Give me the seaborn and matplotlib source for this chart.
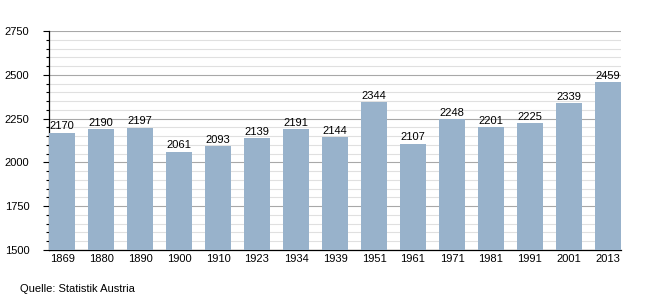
import matplotlib
matplotlib.use("Agg")
import matplotlib.pyplot as plt
import seaborn as sns
import pandas as pd
from matplotlib.ticker import MultipleLocator

years = ["1869", "1880", "1890", "1900", "1910", "1923", "1934", "1939",
         "1951", "1961", "1971", "1981", "1991", "2001", "2013"]
population = [2170, 2190, 2197, 2061, 2093, 2139, 2191, 2144,
              2344, 2107, 2248, 2201, 2225, 2339, 2459]
source = "Quelle: Statistik Austria"

df = pd.DataFrame({"Jahr": years, "Einwohner": population})

sns.set_style("white")
plt.rcParams["font.family"] = ["Liberation Sans", "DejaVu Sans"]
plt.rcParams["text.color"] = "black"
plt.rcParams["xtick.color"] = "black"
plt.rcParams["ytick.color"] = "black"

fig = plt.figure(figsize=(6.5, 3.0), dpi=100)
ax = fig.add_axes([49 / 650, 50 / 300, 572 / 650, 219 / 300])

sns.barplot(data=df, x="Jahr", y="Einwohner", order=years, color="#98b2cb",
            saturation=1, width=0.67, ax=ax, zorder=3, linewidth=0, edgecolor="none")

ax.set_ylim(1500, 2750)
ax.set_xlim(-0.335, len(years) - 1 + 0.335)
ax.yaxis.set_major_locator(MultipleLocator(250))
ax.yaxis.set_minor_locator(MultipleLocator(50))
ax.grid(which="minor", axis="y", color="#e0e0e0", linewidth=0.8, zorder=0)
ax.grid(which="major", axis="y", color="#a8a8a8", linewidth=0.8, zorder=1)
ax.set_axisbelow(True)

for s in ["top", "right"]:
    ax.spines[s].set_visible(False)
for s in ["left", "bottom"]:
    ax.spines[s].set_color("black")
    ax.spines[s].set_linewidth(0.9)

ax.tick_params(axis="y", which="major", length=4, width=0.8, color="black",
               labelsize=8, pad=10, left=True, labelcolor="black")
ax.tick_params(axis="y", which="minor", length=2, width=0.8, color="black", left=True)
ax.tick_params(axis="x", which="both", length=0, labelsize=8, pad=3, labelcolor="black")
ax.set_xlabel("")
ax.set_ylabel("")

for i, v in enumerate(population):
    ax.text(i, v + 8, str(v), ha="center", va="bottom", fontsize=8, zorder=4, color="black")

fig.text(20 / 650, 1 - 289 / 300, source, ha="left", va="center", fontsize=8, color="black")

fig.savefig("out.png", dpi=100, facecolor="white")
